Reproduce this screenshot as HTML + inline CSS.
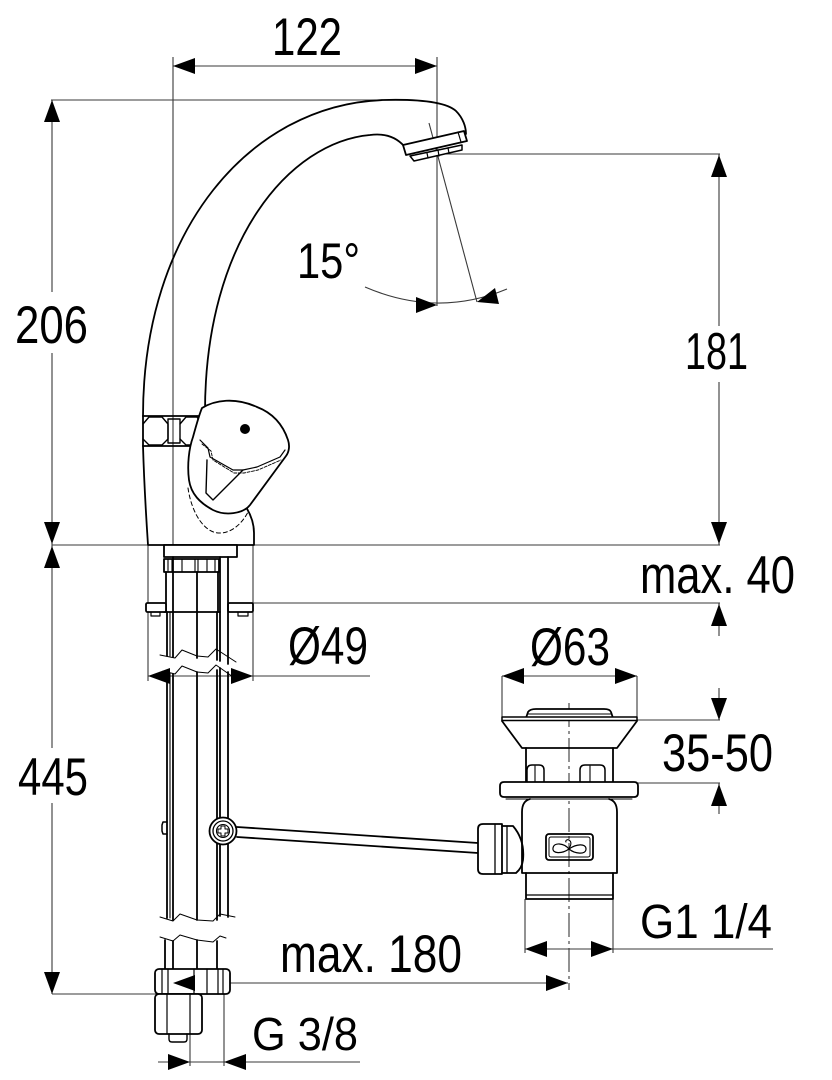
<!DOCTYPE html>
<html>
<head>
<meta charset="utf-8">
<style>
html,body{margin:0;padding:0;background:#fff;}
svg{display:block;}
text{font-family:"Liberation Sans",Arial,sans-serif;fill:#000;}
</style>
</head>
<body>
<svg width="832" height="1080" viewBox="0 0 832 1080" xmlns="http://www.w3.org/2000/svg">
<rect width="832" height="1080" fill="#fff"/>

<!-- ============ THIN DIMENSION / EXTENSION LINES ============ -->
<g stroke="#3a3a3a" stroke-width="1.1" fill="none">
  <!-- 122 -->
  <line x1="173" y1="66" x2="437" y2="66"/>
  <line x1="173" y1="57" x2="173" y2="545"/>
  <line x1="437" y1="57" x2="437" y2="306"/>
  <!-- 206 -->
  <line x1="51" y1="100" x2="400" y2="100"/>
  <line x1="52" y1="100" x2="52" y2="292"/>
  <line x1="52" y1="353" x2="52" y2="545"/>
  <line x1="52" y1="545" x2="720" y2="545"/>
  <!-- 445 -->
  <line x1="52" y1="545" x2="52" y2="748"/>
  <line x1="52" y1="803" x2="52" y2="994"/>
  <line x1="52" y1="994" x2="160" y2="994"/>
  <!-- 181 -->
  <line x1="437" y1="154" x2="720" y2="154"/>
  <line x1="719" y1="154" x2="719" y2="326"/>
  <line x1="719" y1="382" x2="719" y2="545"/>
  <!-- max 40 -->
  <line x1="253" y1="603" x2="720" y2="603"/>
  <line x1="719" y1="603" x2="719" y2="636"/>
  <!-- Ø49 -->
  <line x1="148" y1="676" x2="370" y2="676"/>
  <line x1="148" y1="545" x2="148" y2="681"/>
  <line x1="253" y1="545" x2="253" y2="681"/>
  <!-- Ø63 -->
  <line x1="502" y1="676" x2="637" y2="676"/>
  <line x1="502" y1="676" x2="502" y2="720"/>
  <line x1="637" y1="676" x2="637" y2="720"/>
  <!-- 35-50 -->
  <line x1="637" y1="720" x2="720" y2="720"/>
  <line x1="638" y1="783" x2="720" y2="783"/>
  <line x1="719" y1="688" x2="719" y2="720"/>
  <line x1="719" y1="783" x2="719" y2="814"/>
  <!-- G1 1/4 -->
  <line x1="525" y1="949" x2="773" y2="949"/>
  <line x1="525" y1="899" x2="525" y2="953"/>
  <line x1="613" y1="899" x2="613" y2="953"/>
  <!-- max 180 -->
  <line x1="173" y1="983" x2="568" y2="983"/>
  <!-- G 3/8 -->
  <line x1="158" y1="1062" x2="360" y2="1062"/>
  <line x1="190" y1="1034" x2="190" y2="1066"/>
  <line x1="224" y1="994" x2="224" y2="1066"/>
  <!-- 15° -->
  <path d="M365,287 Q437,318 507,289"/>
  <line x1="429" y1="123" x2="477" y2="302"/>
  <!-- drain centerline -->
  <line x1="569" y1="703" x2="569" y2="990" stroke-dasharray="24,4,3,4"/>
</g>

<!-- ============ OBJECT LINES : FAUCET ============ -->
<g stroke="#000" stroke-width="1.8" fill="none" stroke-linejoin="round" stroke-linecap="round">
  <!-- spout outer -->
  <path d="M143,416 C143,230 250,105 383,100 C420,99 446,102 456,111 C463,118 466,127 466,134"/>
  <!-- spout inner -->
  <path d="M404,146 C396,137 385,133 370,135 C290,142 205,240 205,412"/>
  <!-- aerator -->
  <path d="M403,145 L464,131 L467,141 L406,155 Z" fill="#fff"/>
  <line x1="458" y1="132" x2="461" y2="142" stroke-width="1.2"/>
  <path d="M410,156 L462,145 L462,150 L414,161 Z" fill="#fff" stroke-width="1.5"/>
  <line x1="427" y1="153" x2="428" y2="158" stroke-width="1.2"/>
  <line x1="438" y1="150" x2="439" y2="156" stroke-width="1.2"/>
  <line x1="448" y1="148" x2="449" y2="153" stroke-width="1.2"/>

  <!-- nut band -->
  <line x1="143" y1="416" x2="202" y2="416"/>
  <line x1="143" y1="446" x2="202" y2="446"/>
  <path d="M143,416 L143,446"/>
  <path d="M143,424 L149,417 L162,417 L168,424 L168,439 L162,445 L149,445 L143,439" stroke-width="1.4"/>
  <rect x="168" y="419" width="12" height="24" stroke-width="1.4"/>
  <path d="M180,424 L186,417 L197,417 L201,423 L201,439 L197,445 L186,445 L180,439" stroke-width="1.4"/>

  <!-- body -->
  <path d="M143,446 C144,480 146,515 148,545 L254,545 L254,533 C254,524 251,515 246,507"/>

  <!-- handle -->
  <path d="M202,408 C215,400 235,397 257,407 C270,412 282,422 288,440 C290,446 289,452 286,456 L250,505 C243,514 225,516 213,510 C200,503 191,494 189,480 C187,465 189,448 193,437 C196,426 199,415 202,408 Z" fill="#fff"/>
  <path d="M200,440 L208,448 L210,457 L233,470 L243,470 L257,467 L280,457 L285,450" stroke-width="1.2"/>
  <path d="M202,444 L211,451 L213,460 L234,473 L244,473 L258,470 L281,460" stroke-width="0.9" stroke-dasharray="3,1.5"/>
  <path d="M207,460 L206,493 L213,500 L243,470" stroke-width="1.4"/>
  <path d="M188,488 C192,515 205,532 218,533 C232,534 243,522 248,512" stroke-width="1" stroke-dasharray="4,3"/>

  <!-- spacer & nut under body -->
  <rect x="164" y="545" width="73" height="12" fill="#fff"/>
  <rect x="164" y="559" width="55" height="13" fill="#fff"/>
  <g stroke-width="1.1">
    <line x1="168" y1="559" x2="168" y2="572"/>
    <line x1="172" y1="559" x2="172" y2="572"/>
    <line x1="182" y1="559" x2="182" y2="572"/>
    <line x1="195" y1="559" x2="195" y2="572"/>
    <line x1="198" y1="559" x2="198" y2="572"/>
    <line x1="207" y1="559" x2="207" y2="572"/>
    <line x1="215" y1="559" x2="215" y2="572"/>
  </g>
  <!-- shank -->
  <line x1="166" y1="572" x2="166" y2="612"/>
  <line x1="218" y1="572" x2="218" y2="612"/>
  <line x1="164" y1="612" x2="220" y2="612"/>
  <!-- plate -->
  <rect x="146" y="603" width="20" height="9" rx="1.5" fill="#fff"/>
  <rect x="228" y="603" width="25" height="9" rx="1.5" fill="#fff"/>
  <path d="M151,612 L151,616 L160,616 L160,612" stroke-width="1.2"/>
  <path d="M238,612 L238,616 L248,616 L248,612" stroke-width="1.2"/>

  <!-- pipes upper segment -->
  <line x1="167" y1="612" x2="167" y2="656"/>
  <line x1="170" y1="612" x2="170" y2="656" stroke-width="1.1"/>
  <line x1="173" y1="557" x2="173" y2="657"/>
  <line x1="197" y1="572" x2="197" y2="658"/>
  <line x1="217" y1="612" x2="217" y2="660"/>
  <line x1="220" y1="557" x2="220" y2="661"/>
  <line x1="228" y1="557" x2="228" y2="664"/>
  <!-- break 1 -->
  <path d="M160,655 L175,658 L182,650 L197,656 L208,657 L216,649 L236,662" stroke-width="1" />
  <path d="M163,671 L175,674 L182,666 L197,672 L208,673 L216,665 L236,679" stroke-width="1"/>
  <!-- pipes middle segment -->
  <line x1="167" y1="673" x2="167" y2="918"/>
  <line x1="170" y1="673" x2="170" y2="918" stroke-width="1.1"/>
  <line x1="173" y1="674" x2="173" y2="920"/>
  <line x1="197" y1="672" x2="197" y2="920"/>
  <line x1="217" y1="670" x2="217" y2="920"/>
  <line x1="220" y1="668" x2="220" y2="916"/>
  <line x1="228" y1="672" x2="228" y2="917"/>
  <!-- notch -->
  <path d="M167,822 L163,822 L162,825 L162,831 L163,834 L167,834" stroke-width="1.5"/>
  <!-- break 2 -->
  <path d="M160,917 L173,921 L180,914 L197,920 L213,921 L220,914 L235,917" stroke-width="1"/>
  <path d="M160,937 L173,941 L180,935 L197,940 L213,942 L220,936 L226,938" stroke-width="1"/>
  <!-- pipes lower segment -->
  <line x1="165" y1="940" x2="165" y2="969"/>
  <line x1="173" y1="941" x2="173" y2="969"/>
  <line x1="197" y1="940" x2="197" y2="969"/>
  <line x1="217" y1="941" x2="217" y2="969"/>

  <!-- bottom nuts -->
  <rect x="155" y="969" width="75" height="25" rx="4" fill="#fff"/>
  <g stroke-width="1.2">
    <line x1="162" y1="969" x2="162" y2="994"/>
    <line x1="168" y1="969" x2="168" y2="994"/>
    <line x1="194" y1="969" x2="194" y2="994"/>
    <line x1="207" y1="969" x2="207" y2="994"/>
    <line x1="218" y1="969" x2="218" y2="994"/>
    <line x1="223" y1="969" x2="223" y2="994"/>
  </g>
  <rect x="155" y="994" width="47" height="40" rx="4" fill="#fff"/>
  <line x1="167" y1="994" x2="167" y2="1034" stroke-width="1.2"/>
  <line x1="190" y1="994" x2="190" y2="1034" stroke-width="1.2"/>
  <path d="M169,1034 L169,1039 Q169,1042 172,1042 L184,1042 Q187,1042 187,1039 L187,1034" stroke-width="1.4"/>

  <!-- rod -->
  <line x1="237" y1="827" x2="478" y2="843"/>
  <line x1="237" y1="837" x2="478" y2="853"/>
  <!-- screw -->
  <circle cx="223" cy="831" r="13.5" fill="#fff"/>
  <circle cx="223" cy="831" r="10" stroke-width="1.3"/>
  <circle cx="223" cy="831" r="6.5" stroke-width="1.1"/>
  <path d="M221,826 L225,826 L225,829 L228,829 L228,833 L225,833 L225,836 L221,836 L221,833 L218,833 L218,829 L221,829 Z" stroke-width="1"/>
</g>

<!-- ============ OBJECT LINES : DRAIN ============ -->
<g stroke="#000" stroke-width="1.8" fill="none" stroke-linejoin="round" stroke-linecap="round">
  <!-- cap -->
  <path d="M526,718 L528,712 Q530,709 536,709 L604,709 Q610,709 611,712 L613,718" fill="#fff"/>
  <line x1="528" y1="714" x2="611" y2="714" stroke-width="1"/>
  <!-- flange top -->
  <rect x="502" y="717" width="135" height="3.5" fill="#fff" stroke-width="1.5"/>
  <!-- cone -->
  <path d="M502,721 L522,748 L617,748 L637,721"/>
  <!-- neck -->
  <line x1="526" y1="748" x2="526" y2="782"/>
  <line x1="613" y1="748" x2="613" y2="782"/>
  <!-- tabs -->
  <path d="M527,782 L527,770 Q527,765 532,765 L539,765 Q544,765 544,770 L544,782" stroke-width="1.5"/>
  <line x1="535" y1="766" x2="535" y2="782" stroke-width="1.1"/>
  <path d="M580,782 L580,770 Q580,765 585,765 L600,765 Q605,765 605,770 L605,782" stroke-width="1.5"/>
  <line x1="590" y1="766" x2="590" y2="782" stroke-width="1.1"/>
  <!-- ring -->
  <path d="M504,782 L634,782 Q638,782 638,786 L638,793 Q638,797 634,797 L504,797 Q500,797 500,793 L500,786 Q500,782 504,782 Z" fill="#fff"/>
  <line x1="506" y1="799" x2="632" y2="799" stroke-width="1"/>
  <!-- body -->
  <path d="M530,799 Q522,801 522,812 L522,873 L617,873 L617,812 Q617,801 609,799"/>
  <!-- lower -->
  <path d="M526,873 L526,899 L613,899 L613,873"/>
  <line x1="526" y1="895" x2="613" y2="895" stroke-width="1.2"/>
  <!-- logo -->
  <rect x="546" y="834" width="47" height="26" rx="3"/>
  <rect x="549" y="837" width="41" height="20" rx="2" stroke-width="1"/>
  <path d="M569,849 C564,843 554,842 553,848 C552,854 562,854 569,849 C576,844 586,843 586,849 C586,855 575,854 569,849 Z" stroke-width="1.2"/>
  <path d="M569,849 C571,845 572,842 569,840 C567,839 565,841 566,842" stroke-width="1.1"/>
  <!-- connector -->
  <path d="M483,824 L502,824 L502,874 L483,874 Q478,874 478,869 L478,829 Q478,824 483,824 Z" fill="#fff"/>
  <line x1="495" y1="824" x2="495" y2="874" stroke-width="1.3"/>
  <line x1="507" y1="826" x2="507" y2="873" stroke-width="1.3"/>
  <path d="M502,826 L513,826 Q525,840 523,860 Q522,868 516,873 L502,873" />
</g>

<!-- ============ ARROWHEADS ============ -->
<g fill="#000" stroke="none">
  <polygon points="173,66 195,58 195,74"/>
  <polygon points="437,66 415,58 415,74"/>
  <polygon points="52,100 44,122 60,122"/>
  <polygon points="52,544 44,522 60,522"/>
  <polygon points="52,546 44,568 60,568"/>
  <polygon points="52,994 44,972 60,972"/>
  <polygon points="719,155 711,177 727,177"/>
  <polygon points="719,544 711,522 727,522"/>
  <polygon points="719,604 711,626 727,626"/>
  <polygon points="719,720 711,698 727,698"/>
  <polygon points="719,784 711,806 727,806"/>
  <polygon points="148,676 170,668 170,684"/>
  <polygon points="253,676 231,668 231,684"/>
  <polygon points="502,676 524,668 524,684"/>
  <polygon points="637,676 615,668 615,684"/>
  <polygon points="525,949 547,941 547,957"/>
  <polygon points="613,949 591,941 591,957"/>
  <polygon points="173,983 195,975 195,991"/>
  <polygon points="568,983 546,975 546,991"/>
  <polygon points="190,1062 168,1054 168,1070"/>
  <polygon points="224,1062 246,1054 246,1070"/>
  <polygon points="437,305 416,297 416,313"/>
  <polygon points="477,302 499,304 495,288"/>
  <!-- handle dot -->
  <circle cx="245" cy="429" r="5"/>
</g>

<!-- ============ LABELS ============ -->
<g font-size="53">
  <text x="272" y="55" textLength="70" lengthAdjust="spacingAndGlyphs">122</text>
  <text x="15" y="343" textLength="73" lengthAdjust="spacingAndGlyphs">206</text>
  <text x="297" y="278" font-size="50" textLength="63" lengthAdjust="spacingAndGlyphs">15°</text>
  <text x="685" y="369" font-size="52" textLength="63" lengthAdjust="spacingAndGlyphs">181</text>
  <text x="640" y="593" textLength="155" lengthAdjust="spacingAndGlyphs">max. 40</text>
  <text x="288" y="664" textLength="80" lengthAdjust="spacingAndGlyphs">Ø49</text>
  <text x="530" y="665" textLength="80" lengthAdjust="spacingAndGlyphs">Ø63</text>
  <text x="662" y="771" textLength="111" lengthAdjust="spacingAndGlyphs">35-50</text>
  <text x="18" y="795" textLength="70" lengthAdjust="spacingAndGlyphs">445</text>
  <text x="280" y="972" textLength="182" lengthAdjust="spacingAndGlyphs">max. 180</text>
  <text x="640" y="938" font-size="48" textLength="132" lengthAdjust="spacingAndGlyphs">G1 1/4</text>
  <text x="252" y="1050" font-size="46" textLength="106" lengthAdjust="spacingAndGlyphs">G 3/8</text>
</g>
</svg>
</body>
</html>
